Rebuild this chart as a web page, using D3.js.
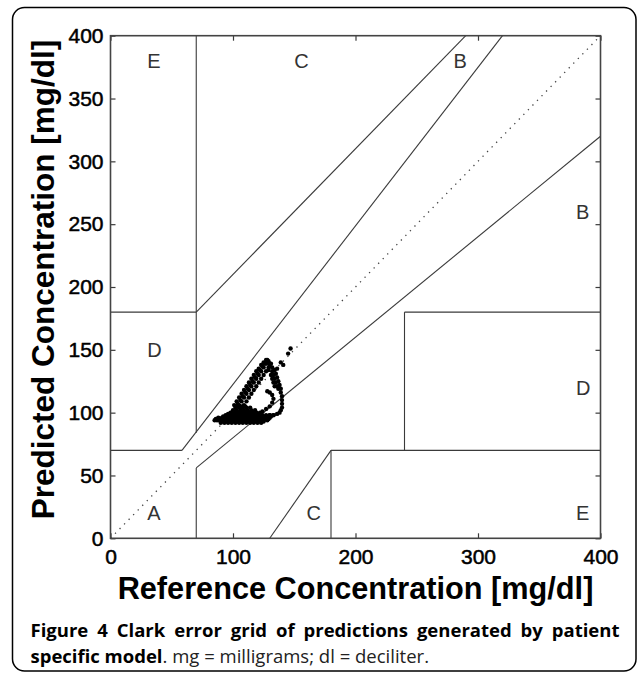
<!DOCTYPE html>
<html>
<head>
<meta charset="utf-8">
<script src="https://cdn.jsdelivr.net/npm/d3@7"></script>
<style>
  html, body { margin: 0; padding: 0; background: #fff; }
  svg { display: block; }
</style>
</head>
<body>
<svg id="chart" width="637" height="674"></svg>
<script>
// ---------------- DATA ----------------
const xTickValues = [0, 100, 200, 300, 400];
const yTickValues = [0, 50, 100, 150, 200, 250, 300, 350, 400];

// Clarke error grid zone boundaries [x1, y1, x2, y2] in mg/dl
const zoneLines = [
  [0, 70, 175/3, 70],
  [175/3, 70, 320, 400],
  [70, 84, 70, 400],
  [0, 180, 70, 180],
  [70, 180, 290, 400],
  [70, 0, 70, 56],
  [70, 56, 400, 320],
  [180, 0, 180, 70],
  [180, 70, 400, 70],
  [240, 70, 240, 180],
  [240, 180, 400, 180],
  [130, 0, 180, 70]
];
const diagonal = [0, 0, 400, 400];

const zoneNames = ['A', 'D', 'E', 'C', 'C', 'E', 'D', 'B', 'B'];
const zoneX     = [30, 30, 30, 150, 160, 380, 380, 380, 280];
const zoneY     = [20, 150, 380, 380, 20, 20, 120, 260, 380];

// Predictions (reference vs predicted, mg/dl)
const refConc = [
  // bottom band
  90,93,96,99,102,105,108,111,114,117,120,123,
  92,95,98,101,104,107,110,113,116,119,122,125,
  85,87,89,92,95,98,101,104,107,110,113,116,119,122,125,128,
  86,90,93,96,99,102,105,108,111,114,117,120,123,126,129,
  88,91,94,97,100,103,106,109,112,115,118,121,124,127,130,
  92,95,98,101,104,107,110,113,116,119,122,125,128,131,
  94,97,100,103,106,109,112,115,118,121,124,127,130,133,
  96,99,102,105,108,111,114,117,120,
  98,101,104,107,110,113,116,119,122,
  100,103,106,109,112,115,118,
  102,105,108,111,114,
  104,107,110,
  // ridge, outer
  101,103,105,107,109,111,113,115,117,119,121,123,125,127,
  // ridge, middle
  105,107,109,111,113,115,117,119,121,123,125,127,129,
  104,106,108,110,112,114,116,118,120,122,124,126,128,
  // ridge, inner
  109,111,113,115,117,119,121,123,125,127,129,130,
  // right edge (thick upper part)
  131,132,134,135,136,137,138,
  130,132,133,134,135,136,137,
  129,131,132,133,134,
  // right edge (thin lower loop)
  139,139,140,140,140,140,139,138,136,133,130,
  // inner loop
  124,127,130,132,133,132,130,128,
  // isolated
  136,139,145,147,141
];
const predConc = [
  92,92,92,92,92,92,92,92,92,92,92,92,
  93,93,93,93,93,93,93,93,93,93,93,93,
  94,94,94,94,94,94,94,94,94,94,94,94,94,94,94,94,
  95,95,95,95,95,95,95,95,95,95,95,95,95,95,95,
  96,96,96,96,96,96,96,96,96,96,96,96,96,96,96,
  97,97,97,97,97,97,97,97,97,97,97,97,97,97,
  98,98,98,98,98,98,98,98,98,98,98,98,98,98,
  99,99,99,99,99,99,99,99,99,
  100,100,100,100,100,100,100,100,100,
  102,102,102,102,102,102,102,
  104,104,104,104,104,
  105,105,105,
  106,109,112,115,118,121,124,127,130,133,135,138,140,142,
  106,109,112,115,118,121,124,127,130,133,136,139,141,
  107,110,113,116,119,122,125,128,131,134,137,139,142,
  106,109,112,115,118,121,124,127,130,133,136,139,
  139,136,134,131,128,125,122,
  137,133,130,127,124,121,119,
  134,130,127,124,121,
  119,116,113,110,107,104,102,100,99,98,98,
  101,103,105,108,111,114,116,117,
  135,140,147,151,138
];

const xLabel = 'Reference Concentration [mg/dl]';
const yLabel = 'Predicted Concentration [mg/dl]';
const captionLine1 = ['Figure', '4', 'Clark', 'error', 'grid', 'of', 'predictions', 'generated', 'by', 'patient'];
const captionBold2 = 'specific model';
const captionRest2 = '. mg = milligrams; dl = deciliter.';

// ---------------- LAYOUT ----------------
const svg = d3.select('#chart');
const X0 = 110.5, X1 = 600.5, Y0 = 35.7, Y1 = 538.3;
const x = d3.scaleLinear().domain([0, 400]).range([X0, X1]);
const y = d3.scaleLinear().domain([0, 400]).range([Y1, Y0]);
const lineColor = '#3a3a3a';

// outer frame
svg.append('rect')
  .attr('x', 12.5).attr('y', 7.5)
  .attr('width', 623.5).attr('height', 663.5)
  .attr('rx', 12).attr('ry', 12)
  .attr('fill', 'none').attr('stroke', '#000').attr('stroke-width', 1.5);

// diagonal (dotted)
svg.append('line')
  .attr('x1', x(diagonal[0])).attr('y1', y(diagonal[1]))
  .attr('x2', x(diagonal[2])).attr('y2', y(diagonal[3]))
  .attr('stroke', '#444').attr('stroke-width', 1.3)
  .attr('stroke-dasharray', '1.3,5.2');

// zone lines
svg.append('g').selectAll('line').data(zoneLines).join('line')
  .attr('x1', d => x(d[0])).attr('y1', d => y(d[1]))
  .attr('x2', d => x(d[2])).attr('y2', d => y(d[3]))
  .attr('stroke', lineColor).attr('stroke-width', 1.1);

// zone labels
svg.append('g').selectAll('text').data(zoneNames).join('text')
  .attr('x', (d, i) => x(zoneX[i]))
  .attr('y', (d, i) => y(zoneY[i]))
  .attr('dy', '0.36em')
  .attr('font-family', 'Liberation Sans, Arial, sans-serif')
  .attr('font-size', 20)
  .attr('fill', '#333')
  .text(d => d);

// scatter points
const pts = refConc.map((r, i) => [r, predConc[i]]);
svg.append('g').selectAll('circle').data(pts).join('circle')
  .attr('cx', d => x(d[0])).attr('cy', d => y(d[1]))
  .attr('r', 2.2).attr('fill', '#000');

// axes
const fontFam = 'Liberation Sans, Arial, sans-serif';
const gLeft = svg.append('g').attr('transform', `translate(${X0},0)`)
  .call(d3.axisLeft(y).tickValues(yTickValues).tickSizeInner(-5).tickSizeOuter(0).tickPadding(7));
const gBottom = svg.append('g').attr('transform', `translate(0,${Y1})`)
  .call(d3.axisBottom(x).tickValues(xTickValues).tickSizeInner(-5).tickSizeOuter(0).tickPadding(11));
const gRight = svg.append('g').attr('transform', `translate(${X1},0)`)
  .call(d3.axisRight(y).tickValues(yTickValues).tickSizeInner(-5).tickSizeOuter(0).tickFormat(''));
const gTop = svg.append('g').attr('transform', `translate(0,${Y0})`)
  .call(d3.axisTop(x).tickValues(xTickValues).tickSizeInner(-5).tickSizeOuter(0).tickFormat(''));
[gLeft, gBottom, gRight, gTop].forEach(g => {
  g.select('.domain').remove();
  g.selectAll('.tick line').attr('stroke', lineColor).attr('stroke-width', 1.2);
  g.selectAll('.tick text').attr('font-family', fontFam).attr('font-size', 21)
    .attr('fill', '#000').attr('stroke', '#000').attr('stroke-width', 0.5);
});

// plot box
svg.append('rect')
  .attr('x', X0).attr('y', Y0).attr('width', X1 - X0).attr('height', Y1 - Y0)
  .attr('fill', 'none').attr('stroke', '#444').attr('stroke-width', 1.6);

// axis titles
svg.append('text')
  .attr('x', (X0 + X1) / 2).attr('y', 599)
  .attr('text-anchor', 'middle')
  .attr('font-family', fontFam).attr('font-weight', 'bold').attr('font-size', 30.7)
  .attr('fill', '#000').text(xLabel);
svg.append('text')
  .attr('transform', 'translate(54,279.5) rotate(-90)')
  .attr('text-anchor', 'middle')
  .attr('font-family', fontFam).attr('font-weight', 'bold').attr('font-size', 31.5)
  .attr('fill', '#000').text(yLabel);

// caption
const capFont = 'Open Sans, Noto Sans, sans-serif';
const capX0 = 30.5, capX1 = 619.5;
const line1 = svg.append('text')
  .attr('y', 636.5)
  .attr('font-family', capFont).attr('font-weight', 'bold').attr('font-size', 18.5)
  .attr('fill', '#000');
const spans = captionLine1.map(w => line1.append('tspan').text(w));
const widths = spans.map(s => s.node().getComputedTextLength());
const totalW = d3.sum(widths);
const gap = (capX1 - capX0 - totalW) / (captionLine1.length - 1);
let cx = capX0;
spans.forEach((s, i) => { s.attr('x', cx); cx += widths[i] + gap; });

const line2 = svg.append('text')
  .attr('x', capX0).attr('y', 663)
  .attr('font-family', capFont).attr('font-size', 18.5).attr('fill', '#000');
line2.append('tspan').attr('font-weight', 'bold').text(captionBold2);
line2.append('tspan').attr('fill', '#222').text(captionRest2);
</script>
</body>
</html>
